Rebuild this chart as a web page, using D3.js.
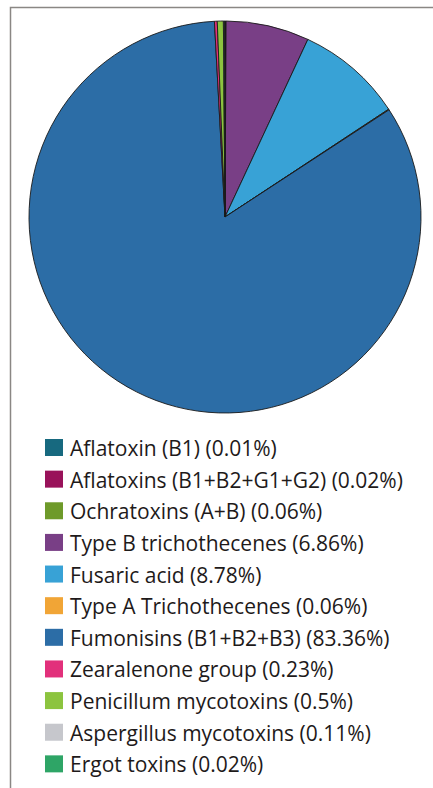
<!DOCTYPE html>
<html>
<head>
<meta charset="utf-8">
<script src="https://cdn.jsdelivr.net/npm/d3@7"></script>
<style>
  body { margin: 0; background: #fff; }
  svg { display: block; }
</style>
</head>
<body>
<script>
// mycotoxin groups, in drawing order (clockwise from 12 o'clock)
var names = ["Aflatoxin (B1)", "Aflatoxins (B1+B2+G1+G2)", "Ochratoxins (A+B)",
  "Type B trichothecenes", "Fusaric acid", "Type A Trichothecenes",
  "Fumonisins (B1+B2+B3)", "Zearalenone group", "Penicillum mycotoxins",
  "Aspergillus mycotoxins", "Ergot toxins"];
var shares = [0.01, 0.02, 0.06, 6.86, 8.78, 0.06, 83.36, 0.23, 0.5, 0.11, 0.02];
var colours = ["#17697f", "#99125a", "#6e9a2a", "#793f86", "#38a2d6", "#f1a536",
  "#2c6da6", "#e2307b", "#8cc43f", "#c6c7cc", "#2ea566"];

var W = 433, H = 788;
var cx = 225, cy = 217, r = 196;

var svg = d3.select("body").append("svg")
  .attr("width", W)
  .attr("height", H);

// frame (top and left edge only)
svg.append("path")
  .attr("d", "M10.5," + H + "V7.5H" + W)
  .attr("fill", "none")
  .attr("stroke", "#8a8784")
  .attr("stroke-width", 1.5);

var data = names.map(function(n, i) { return {name: n, value: shares[i], colour: colours[i]}; });

var pie = d3.pie().sort(null).value(function(d) { return d.value; });
var arc = d3.arc().innerRadius(0).outerRadius(r);

svg.append("g")
  .attr("transform", "translate(" + cx + "," + cy + ")")
  .selectAll("path")
  .data(pie(data))
  .join("path")
  .attr("d", arc)
  .attr("fill", function(d) { return d.data.colour; })
  .attr("stroke", "#1a1a1a")
  .attr("stroke-width", 0.9)
  .attr("stroke-linejoin", "round");

// legend
var y = d3.scaleBand().domain(names).range([432, 780]);

var row = svg.append("g").selectAll("g")
  .data(data)
  .join("g")
  .attr("transform", function(d) { return "translate(45," + y(d.name) + ")"; });

row.append("rect")
  .attr("x", 0)
  .attr("y", 7)
  .attr("width", 18)
  .attr("height", 17)
  .attr("fill", function(d) { return d.colour; });

row.append("text")
  .attr("x", 25)
  .attr("y", 24)
  .attr("font-family", "'Open Sans', sans-serif")
  .attr("font-size", 21)
  .attr("fill", "#1e1a1a")
  .text(function(d) { return d.name + " (" + d.value + "%)"; });
</script>
</body>
</html>
